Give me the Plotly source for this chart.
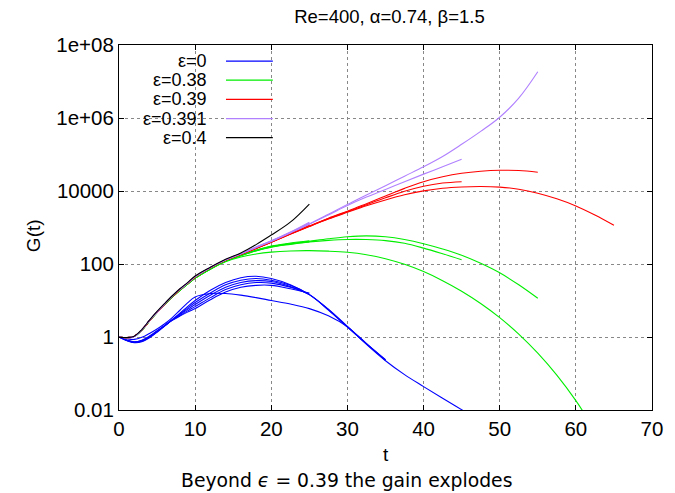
import plotly.graph_objects as go

# time grid (curves use a prefix of it, ending at 25, 35, 45, 47.5, 55, 62.5, 65)
T = [0, 1, 2, 3, 4, 5, 6, 7, 8, 9, 10, 12, 14, 16, 18, 20, 22.5, 25, 27.5, 30,
     32.5, 35, 37.5, 40, 42.5, 45, 47.5, 50, 52.5, 55, 57.5, 60, 62.5, 65]

# eps = 0  (blue)
blue_early = [1, 0.9, 0.86, 0.98, 1.25, 1.65, 2.3, 3.4, 5.4, 8.6, 12.5, 15.5, 15.5,
              14, 12, 10, 8, 6, 3.8, 1.9, 0.66, 0.23]
blue_1 = [1, 0.8, 0.7, 0.74, 0.95, 1.35, 2.0, 3.0, 4.5, 6.8, 10, 19, 31, 42, 46, 40,
          27, 14.5, 5.8, 1.95, 0.63, 0.224, 0.093, 0.0437, 0.0209, 0.0102, 0.005]
blue_2 = [1, 0.8, 0.71, 0.76, 0.98, 1.4, 2.05, 3.0, 4.3, 6.2, 8.8, 16, 27, 36, 40,
          36, 26, 14.5, 5.6, 1.9, 0.65, 0.235]
blue_3 = [1, 0.81, 0.72, 0.78, 1.0, 1.42, 2.05, 2.95, 4.1, 5.7, 7.8, 14, 23, 31, 35,
          33, 24, 14.5, 5.5, 1.88, 0.66, 0.24]
blue_4 = [1, 0.82, 0.73, 0.8, 1.03, 1.45, 2.05, 2.9, 3.9, 5.2, 6.8, 12, 20, 27, 31,
          30, 23, 15]
blue_5 = [1, 0.83, 0.74, 0.82, 1.06, 1.48, 2.05, 2.85, 3.75, 4.8, 6.0, 10.5, 17, 23,
          26, 26, 21, 16]

# eps = 0.38  (green)
green_a = [1, 0.96, 1.03, 1.55, 2.75, 4.7, 7.8, 12.5, 19, 28, 41, 73, 120, 172, 235,
           300, 360, 420, 490, 556, 589, 556, 468, 359, 257, 174, 105, 57.5, 26.9, 11.5]
green_b = [1, 0.96, 1.03, 1.55, 2.75, 4.7, 7.8, 12.5, 19, 28, 41, 73, 120, 170, 232,
           295, 355, 405, 445, 470, 468, 438, 370, 272, 190, 130]
green_c = [1, 0.96, 1.03, 1.55, 2.75, 4.7, 7.8, 12.5, 19, 28, 41, 72, 115, 155, 188,
           212, 228, 232, 225, 210, 180, 140, 98, 62, 35, 18, 8.3, 3.4, 1.2, 0.36,
           0.09, 0.018, 0.0028]
green_d = [1, 0.96, 1.03, 1.55, 2.75, 4.7, 7.8, 12.5, 19, 28, 41, 73, 121, 174, 240,
           310, 375, 435]
green_e = [1, 0.96, 1.03, 1.55, 2.75, 4.7, 7.8, 12.5, 19, 28, 41, 73, 119, 168, 228,
           290, 345, 400]

# eps = 0.39  (red)
red_a = [1, 0.96, 1.04, 1.57, 2.8, 4.8, 8.0, 13, 20, 29.5, 44, 79, 128, 185, 270,
         400, 670, 1100, 1800, 2800, 4500, 7300, 11800, 18000, 24500, 30500, 34800,
         37000, 36300, 32500]
red_b = [1, 0.96, 1.04, 1.57, 2.8, 4.8, 8.0, 13, 20, 29.5, 44, 79, 128, 184, 268,
         395, 660, 1080, 1750, 2700, 4200, 6500, 9800, 13500, 16500, 18000]
red_c = [1, 0.96, 1.04, 1.57, 2.8, 4.8, 8.0, 13, 20, 29.5, 44, 79, 127, 183, 266,
         392, 650, 1060, 1700, 2600, 3950, 5700, 7900, 10100, 11900, 12900, 13300,
         12800, 11200, 8700, 6100, 3900, 2200, 1150]
red_d = [1, 0.96, 1.04, 1.57, 2.8, 4.8, 8.0, 13, 20, 29.5, 44, 79, 128, 186, 272,
         405, 680, 1150]
red_e = [1, 0.96, 1.04, 1.57, 2.8, 4.8, 8.0, 13, 20, 29.5, 44, 79, 128, 185, 270,
         402, 675, 1120]

# eps = 0.391  (purple)
purple_a = [1, 0.96, 1.04, 1.58, 2.85, 4.9, 8.1, 13.2, 20.5, 30, 45, 80, 130, 190,
            285, 420, 720, 1250, 2300, 4300, 7800, 14000, 25500, 46000, 88000,
            190000, 430000, 1.05e6, 3.5e6, 1.85e7]
purple_b = [1, 0.96, 1.04, 1.58, 2.85, 4.9, 8.1, 13.2, 20.5, 30, 45, 80, 130, 189,
            283, 415, 710, 1230, 2200, 4000, 6800, 11000, 18000, 29000, 46000, 74000]
purple_c = [1, 0.96, 1.04, 1.58, 2.85, 4.9, 8.1, 13.2, 20.5, 30, 45, 80, 130, 191,
            288, 425, 730, 1320]
purple_d = [1, 0.96, 1.04, 1.58, 2.85, 4.9, 8.1, 13.2, 20.5, 30, 45, 80, 131, 193,
            292, 432, 750, 1400]

# eps = 0.4  (black)
black_a = [1, 0.96, 1.05, 1.6, 2.9, 5.0, 8.3, 13.5, 21, 31, 47, 82, 135, 200, 340,
           620, 1400, 4400]

FAMILIES = [
    ("ε=0", "#0000ff", [blue_early, blue_1, blue_2, blue_3, blue_4, blue_5]),
    ("ε=0.38", "#00ee00", [green_a, green_b, green_c, green_d, green_e]),
    ("ε=0.39", "#ff0000", [red_a, red_b, red_c, red_d, red_e]),
    ("ε=0.391", "#b080ff", [purple_a, purple_b, purple_c, purple_d]),
    ("ε=0.4", "#000000", [black_a]),
]

X_TICKS = [0, 10, 20, 30, 40, 50, 60, 70]
Y_TICKS = [0.01, 1, 100, 1e4, 1e6, 1e8]
Y_TICK_TEXT = ["0.01", "1", "100", "10000", "1e+06", "1e+08"]

FONT = "Liberation Sans, Arial, sans-serif"
FS = 20.5

fig = go.Figure()
for name, color, curves in FAMILIES:
    for g in curves:
        fig.add_trace(go.Scatter(
            x=T[:len(g)], y=g, mode="lines", name=name,
            line=dict(color=color, width=1.1, shape="spline", smoothing=1.0),
            showlegend=False, hoverinfo="skip"))

# gnuplot-style key: right-aligned label followed by a line sample
for i, (name, color, _) in enumerate(FAMILIES):
    yk = 0.956 - i * 0.0525
    fig.add_annotation(x=0.168, y=yk, xref="paper", yref="paper", text=name,
                       showarrow=False, xanchor="right", yanchor="middle",
                       font=dict(family=FONT, size=18, color="black"))
    fig.add_shape(type="line", xref="paper", yref="paper", x0=0.2007, x1=0.2886,
                  y0=yk, y1=yk, line=dict(color=color, width=1.3))

axis_common = dict(
    showline=True, linecolor="black", linewidth=1, mirror="ticks",
    ticks="inside", ticklen=5, tickcolor="black",
    showgrid=True, gridcolor="#888888", griddash="dot", gridwidth=1,
    zeroline=False, tickfont=dict(family=FONT, size=FS, color="black"),
)

fig.update_layout(
    width=675, height=493,
    margin=dict(l=119, r=15.5, t=45, b=83),
    paper_bgcolor="white", plot_bgcolor="white",
    title=dict(text="Re=400, α=0.74, β=1.5", x=0.577, xanchor="center",
               y=1 - 17 / 493, yanchor="middle",
               font=dict(family=FONT, size=18.5, color="black")),
    xaxis=dict(range=[0, 70], tickvals=X_TICKS, **axis_common),
    yaxis=dict(type="log", range=[-2, 8], tickvals=Y_TICKS, ticktext=Y_TICK_TEXT,
               **axis_common),
)

fig.add_annotation(x=0.5, y=-0.123, xref="paper", yref="paper", text="t",
                   showarrow=False, xanchor="center", yanchor="middle",
                   font=dict(family=FONT, size=19, color="black"))
fig.add_annotation(x=-0.159, y=0.477, xref="paper", yref="paper", text="G(t)",
                   textangle=-90, showarrow=False, xanchor="center", yanchor="middle",
                   font=dict(family=FONT, size=19, color="black"))
fig.add_annotation(x=0.426, y=-0.1945, xref="paper", yref="paper",
                   text="Beyond <i>ϵ</i> = 0.39 the gain explodes",
                   showarrow=False, xanchor="center", yanchor="middle",
                   font=dict(family="DejaVu Sans", size=18.8, color="black"))

fig.write_html("out.html")
